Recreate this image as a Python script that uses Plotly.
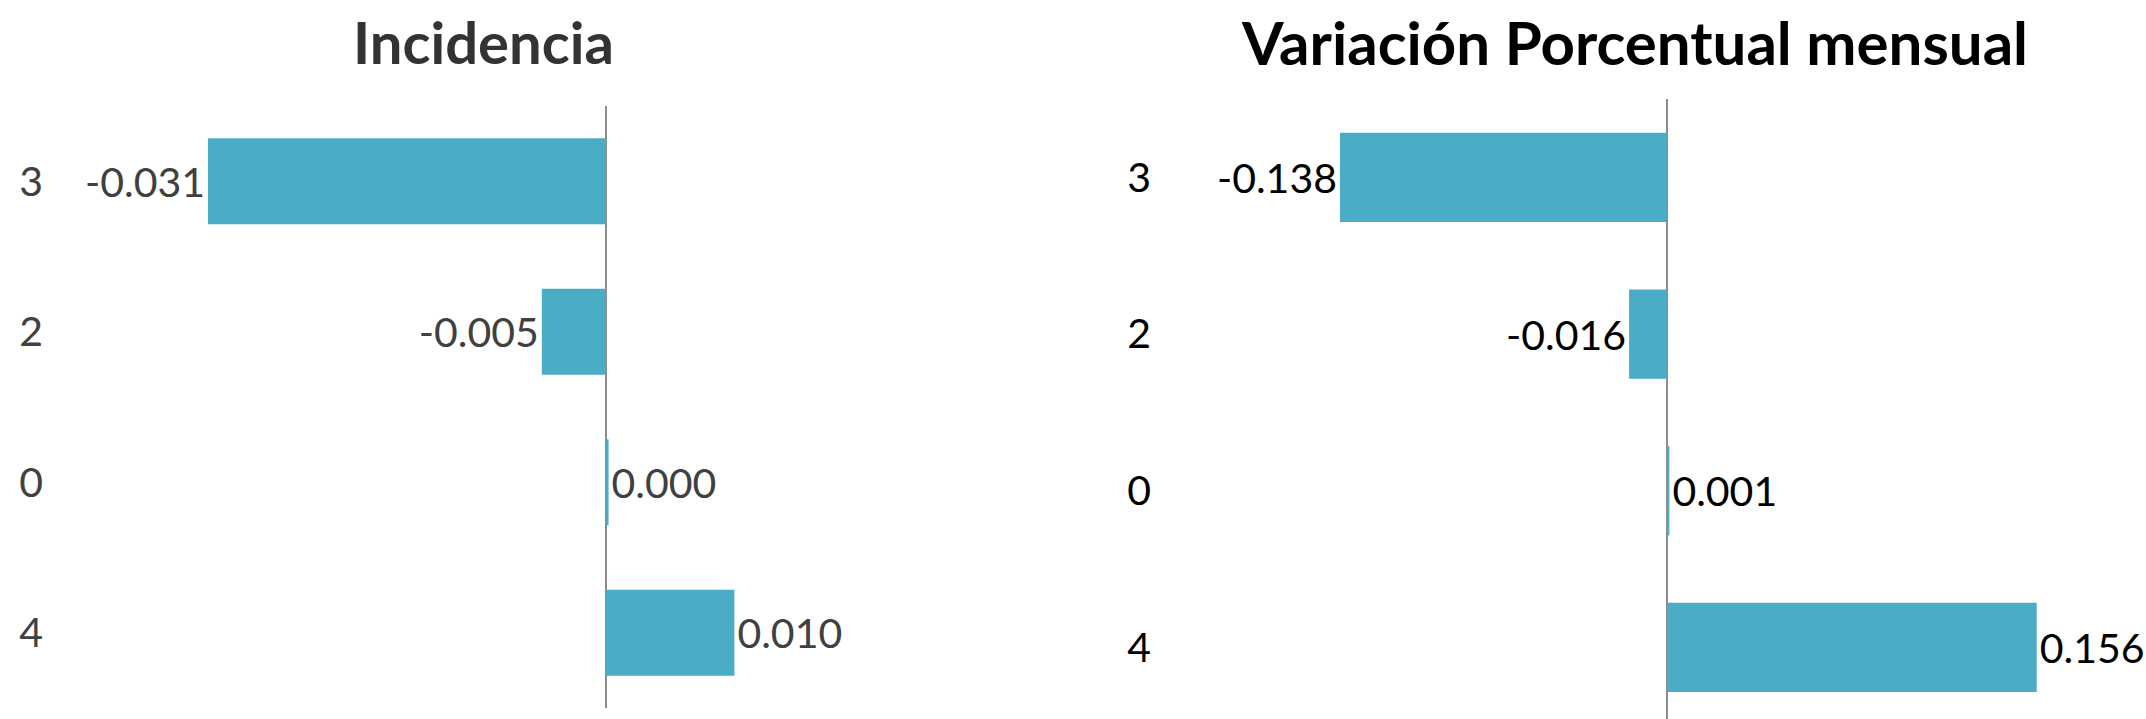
import plotly.graph_objects as go

# ---- data ----
categories = ["3", "2", "0", "4"]
incidencia = [-0.031, -0.005, 0.0002, 0.010]
variacion = [-0.138, -0.016, 0.001, 0.156]
titles = ["Incidencia", "Variación Porcentual mensual"]

W, H = 2146, 719
BAR_COLOR = "#4BACC6"
AXIS_COLOR = "#8C8C8C"
FONT = "Lato"

# layout geometry (pixels)
L_X0, L_X1, L_ZERO, L_SCALE = 48, 1000, 606, 12839.0
R_X0, R_X1, R_ZERO, R_SCALE = 1156, 2146, 1667, 2370.0
L_TOP, L_BOT = 106, 708
R_TOP, R_CAT = 99, 156.7

def xrange(x0, x1, zero, scale):
    return [(x0 - zero) / scale, (x1 - zero) / scale]

cat_order = list(reversed(categories))  # bottom to top

fig = go.Figure()
fig.add_trace(go.Bar(
    y=categories, x=incidencia, orientation="h",
    marker=dict(color=BAR_COLOR, line=dict(width=0)),
    width=0.57,
    text=[f"{v:.3f}" for v in incidencia], textposition="outside",
    textfont=dict(family=FONT, size=41, color="#404040"),
    cliponaxis=False, xaxis="x", yaxis="y", showlegend=False,
))
fig.add_trace(go.Bar(
    y=categories, x=variacion, orientation="h",
    marker=dict(color=BAR_COLOR, line=dict(width=0)),
    width=0.57,
    text=[f"{v:.3f}" for v in variacion], textposition="outside",
    textfont=dict(family=FONT, size=41, color="#000000"),
    cliponaxis=False, xaxis="x2", yaxis="y2", showlegend=False,
))

r_bottom = 3.5 - (H - R_TOP) / R_CAT

xcommon = dict(showgrid=False, showticklabels=False, showline=False, ticks="",
               zeroline=True, zerolinecolor=AXIS_COLOR, zerolinewidth=1.5,
               fixedrange=True, automargin=False)

fig.update_layout(
    template="none",
    width=W, height=H, autosize=False,
    margin=dict(l=0, r=0, t=0, b=0, pad=0),
    paper_bgcolor="white", plot_bgcolor="white",
    bargap=0.43,
    hovermode=False,
    xaxis=dict(domain=[L_X0 / W, L_X1 / W], range=xrange(L_X0, L_X1, L_ZERO, L_SCALE),
               anchor="y", **xcommon),
    xaxis2=dict(domain=[R_X0 / W, R_X1 / W], range=xrange(R_X0, R_X1, R_ZERO, R_SCALE),
                anchor="y2", **xcommon),
    yaxis=dict(domain=[(H - L_BOT) / H, (H - L_TOP) / H], type="category",
               categoryorder="array", categoryarray=cat_order, range=[-0.5, 3.5],
               showgrid=False, zeroline=False, showline=False, ticks="",
               ticklabelstandoff=4, automargin=False, fixedrange=True,
               tickfont=dict(family=FONT, size=41, color="#404040"), anchor="x"),
    yaxis2=dict(domain=[0, (H - R_TOP) / H], type="category",
                categoryorder="array", categoryarray=cat_order, range=[r_bottom, 3.5],
                showgrid=False, zeroline=False, showline=False, ticks="",
                ticklabelstandoff=4, automargin=False, fixedrange=True,
                tickfont=dict(family=FONT, size=41, color="#000000"), anchor="x2"),
    annotations=[
        dict(text=titles[0], x=483 / W, y=1 - 42 / H, xref="paper", yref="paper",
             xanchor="center", yanchor="middle", showarrow=False,
             font=dict(family=FONT, size=58, color="#333333", weight="bold")),
        dict(text=titles[1], x=1634 / W, y=1 - 42 / H, xref="paper", yref="paper",
             xanchor="center", yanchor="middle", showarrow=False,
             font=dict(family=FONT, size=60, color="#000000", weight="bold")),
    ],
)

fig.write_html("out.html", config={"displayModeBar": False},
               post_script="document.body.style.margin='0px';")
